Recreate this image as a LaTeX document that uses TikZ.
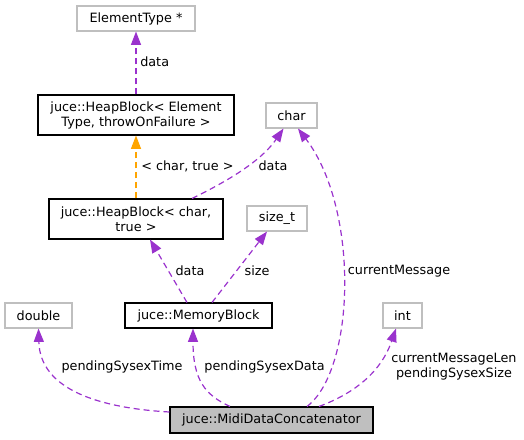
\documentclass[tikz,border=0pt]{standalone}
\usepackage{fontspec}
\setmainfont{DejaVu Sans}
\usetikzlibrary{arrows.meta,calc}
\definecolor{edgepurple}{HTML}{9A32CD}
\definecolor{edgeorange}{HTML}{FFA500}
\definecolor{grey75}{HTML}{BFBFBF}
\begin{document}
\begin{tikzpicture}[x=0.75pt,y=-0.75pt,
  every node/.style={font=\fontsize{9.6pt}{11.25pt}\selectfont, inner sep=0pt},
  box/.style={draw=black, line width=0.8pt, align=center, fill=white},
  gbox/.style={draw=grey75, line width=0.8pt, align=center, fill=white},
  mainbox/.style={draw=black, line width=0.8pt, fill=grey75, align=center},
  edge/.style={draw=edgepurple, line width=0.9pt, dash pattern=on 4.5pt off 3pt,
    -{Triangle[length=10pt,width=7.5pt,fill=edgepurple]}},
  edgeo/.style={draw=edgeorange, line width=0.9pt, dash pattern=on 4.5pt off 3pt,
    -{Triangle[length=10pt,width=7.5pt,fill=edgeorange]}},
  lbl/.style={text=black}
]
\useasboundingbox (0,0) rectangle (524,439);

\node[gbox, minimum width=88.5pt, minimum height=18.75pt] (et) at (136,18.5) {ElementType *};
\node[box, minimum width=147pt, minimum height=30pt] (hbg) at (136,115) {juce::HeapBlock< Element\\Type, throwOnFailure >};
\node[box, minimum width=130.5pt, minimum height=30pt] (hbc) at (136,219) {juce::HeapBlock< char,\\true >};
\node[gbox, minimum width=38.25pt, minimum height=18.75pt] (chr) at (291.5,115.5) {char};
\node[gbox, minimum width=45pt, minimum height=18.75pt] (szt) at (277,218.5) {size\_t};
\node[gbox, minimum width=50.25pt, minimum height=18.75pt] (dbl) at (38.5,315.5) {double};
\node[box, minimum width=110.25pt, minimum height=18.75pt] (mb) at (198.5,315.5) {juce::MemoryBlock};
\node[gbox, minimum width=29.25pt, minimum height=18.75pt] (int) at (402.5,315.5) {int};
\node[mainbox, minimum width=152.25pt, minimum height=19.5pt] (mdc) at (271.5,420) {juce::MidiDataConcatenator};

% edges
\draw[edge] (hbg.north) -- (et.south);
\node[lbl, anchor=west] (l1) at (140,62) {data};

\draw[edgeo] (hbc.north) -- (hbg.south);
\node[lbl, anchor=west] (l2) at (141,166) {< char, true >};

\draw[edge] ($(hbc.north)+(56,0)$) .. controls (230,180) and (262,160) .. ($(chr.south)+(-8,0)$);
\node[lbl] (l3) at (273,166) {data};

\draw[edge] ($(mb.north)+(-11.5,0)$) -- ($(hbc.south)+(14,0)$);
\node[lbl] (l4) at (190,271) {data};

\draw[edge] ($(mb.north)+(13.5,0)$) -- ($(szt.south)+(-10,0)$);
\node[lbl] (l5) at (257,271) {size};

\draw[edge] ($(mdc.north)+(35.5,0)$) .. controls (355,370) and (360,210) .. ($(chr.south)+(6.5,0)$);
\node[lbl] (l6) at (399,271) {currentMessage};

\draw[edge] ($(mdc.west)+(0,-8)$) .. controls (100,408) and (40,390) .. (dbl.south);
\node[lbl] (l7) at (122,367) {pendingSysexTime};

\draw[edge] ($(mdc.north)+(-41.5,0)$) .. controls (205,395) and (193,380) .. ($(mb.south)+(-5.5,0)$);
\node[lbl] (l8) at (264.5,367) {pendingSysexData};

\draw[edge] ($(mdc.north)+(47.5,0)$) .. controls (350,395) and (380,375) .. ($(int.south)+(-6.5,0)$);
\node[lbl, align=center] (l9) at (454,367) {currentMessageLen\\pendingSysexSize};
\end{tikzpicture}
\end{document}
